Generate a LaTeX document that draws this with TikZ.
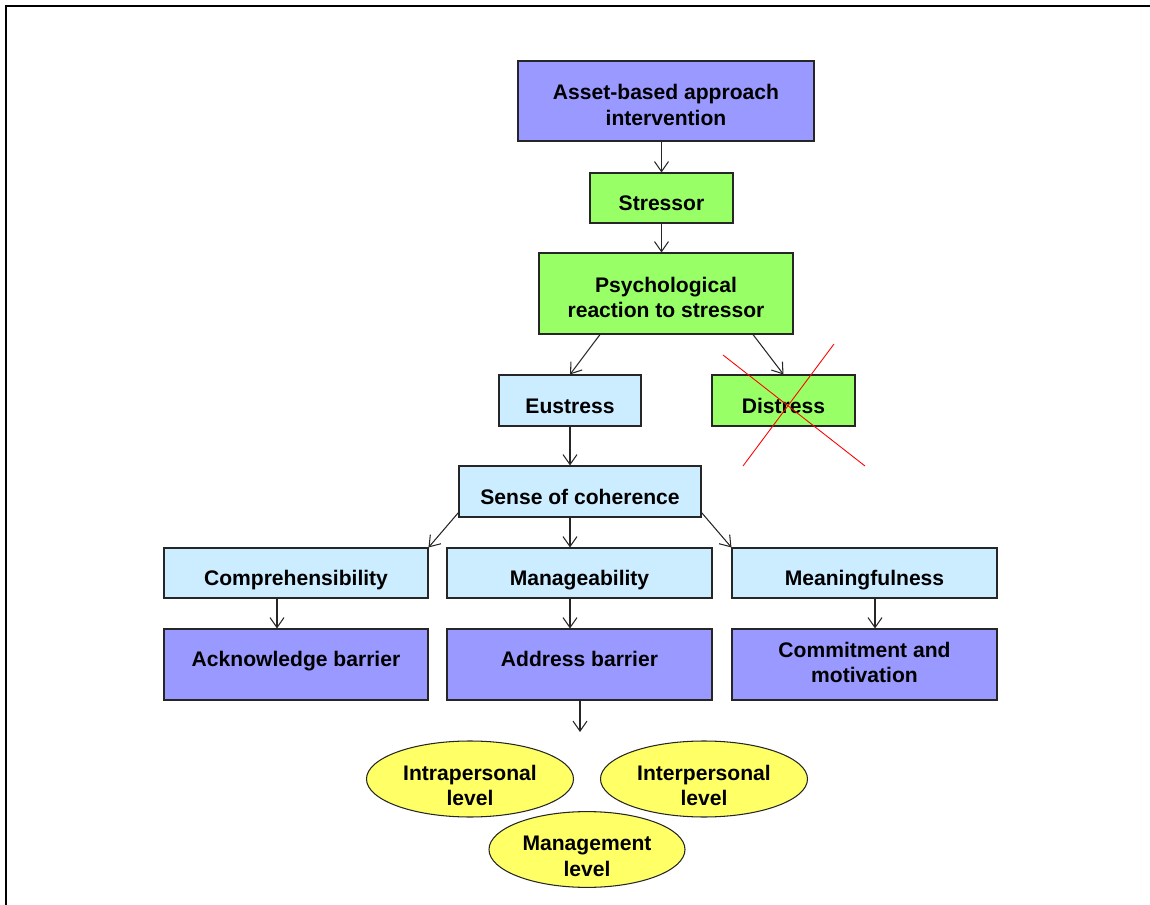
\documentclass[tikz,border=0pt]{standalone}
\usepackage{fontspec}
\setmainfont{Liberation Sans}
\usetikzlibrary{arrows.meta,shapes.geometric}
\definecolor{lila}{HTML}{9999FF}
\definecolor{gruen}{HTML}{99FF66}
\definecolor{hellblau}{HTML}{CCECFF}
\definecolor{gelb}{HTML}{FFFF66}

\begin{document}
\begin{tikzpicture}[x=0.02cm,y=-0.02cm,
  kasten/.style 2 args={draw=black!85,line width=0.6pt,minimum width=#1*0.02cm,minimum height=#2*0.02cm,
    inner sep=0pt,align=center,font=\fontsize{12}{14.5}\selectfont\bfseries},
  einzeilig/.style={text height=14.5pt,text depth=0pt},
  zweizeilig/.style={text height=27.8pt,text depth=0pt},
  ebene/.style={ellipse,draw=black!85,fill=gelb,line width=0.6pt,inner sep=0pt,align=center,
    text height=30.5pt,text depth=0pt,font=\fontsize{12}{14.5}\selectfont\bfseries},
  pfeil/.style={-{Straight Barb[length=2mm,width=2.8mm]},line width=0.6pt,black!85}]
%Rahmen und Bildgroesse (Pixel des Originals)
\useasboundingbox (0,0) rectangle (1150,905);
\draw[line width=1.2pt] (6,905) -- (6,6) -- (1150,6);
%obere Kette
\node[kasten={296}{80},fill=lila,zweizeilig] (asset) at (666,101) {Asset-based approach\\intervention};
\node[kasten={143}{50},fill=gruen,einzeilig] (stressor) at (661.5,198) {Stressor};
\node[kasten={254}{81},fill=gruen,zweizeilig] (psych) at (666,293.5) {Psychological\\reaction to stressor};
\node[kasten={142}{51},fill=hellblau,einzeilig] (eustress) at (570,400.5) {Eustress};
\node[kasten={143}{51},fill=gruen,einzeilig] (distress) at (783.5,400.5) {Distress};
\node[kasten={242}{51},fill=hellblau,einzeilig] (sense) at (580,491.5) {Sense of coherence};
%drei Saeulen
\node[kasten={264}{50},fill=hellblau,einzeilig] (comp) at (296,573) {Comprehensibility};
\node[kasten={265}{50},fill=hellblau,einzeilig] (manage) at (579.5,573) {Manageability};
\node[kasten={265}{50},fill=hellblau,einzeilig] (meaning) at (864.5,573) {Meaningfulness};
\node[kasten={264}{71},fill=lila,text height=9pt,text depth=6.8pt] (ack) at (296,664.5) {Acknowledge barrier};
\node[kasten={265}{71},fill=lila,text height=9pt,text depth=6.8pt] (address) at (579.5,664.5) {Address barrier};
\node[kasten={265}{71},fill=lila,text depth=2.2pt] (commit) at (864.5,664.5) {Commitment and\\motivation};
%Ebenen
\node[ebene,minimum width=207*0.02cm,minimum height=76*0.02cm] (intra) at (470,779) {Intrapersonal\\level};
\node[ebene,minimum width=207*0.02cm,minimum height=76*0.02cm] (inter) at (704,779) {Interpersonal\\level};
\node[ebene,minimum width=196*0.02cm,minimum height=75*0.02cm] (mgmt) at (587,849.5) {Management\\level};
\coordinate (ziel) at (580,732);
%Pfeile
\draw[pfeil] (asset.south -| stressor.north) -- (stressor.north);
\draw[pfeil] (stressor.south) -- (psych.north -| stressor.south);
\draw[pfeil] ([xshift=-1.32cm]psych.south) -- (eustress.north);
\draw[pfeil] ([xshift=1.74cm]psych.south) -- (distress.north);
\draw[pfeil] (eustress.south) -- (sense.north -| eustress.south);
\draw[pfeil] ([yshift=0.1cm]sense.south west) -- (comp.north east);
\draw[pfeil] (sense.south -| eustress.south) -- (manage.north -| eustress.south);
\draw[pfeil] ([yshift=0.1cm]sense.south east) -- (meaning.north west);
\draw[pfeil] ([xshift=-0.38cm]comp.south) -- ([xshift=-0.38cm]ack.north);
\draw[pfeil] (manage.south -| eustress.south) -- (address.north -| eustress.south);
\draw[pfeil] ([xshift=0.21cm]meaning.south) -- ([xshift=0.21cm]commit.north);
\draw[pfeil] (address.south -| ziel) -- (ziel);
%Distress durchgestrichen
\draw[red,line width=0.5pt] (723,355) -- (865,466);
\draw[red,line width=0.5pt] (834,344) -- (743,466);
\end{tikzpicture}
\end{document}
